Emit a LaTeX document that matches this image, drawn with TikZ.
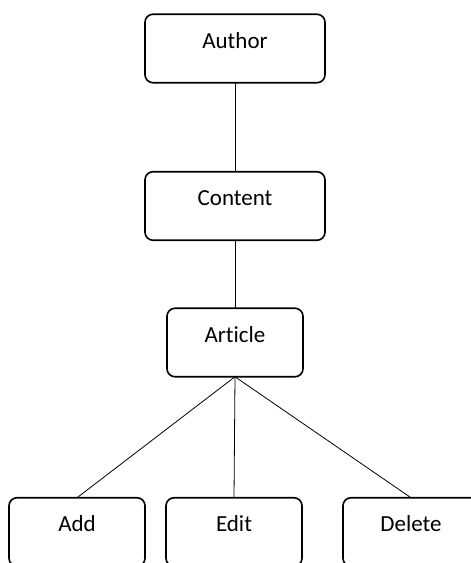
\documentclass[tikz,border=0pt]{standalone}
\usepackage{fontspec}
\setmainfont[Ligatures=NoCommon]{Carlito}
\usetikzlibrary{positioning}

\begin{document}
\begin{tikzpicture}[x=1pt,y=-1pt,line width=0.8pt,
      box/.style={draw,line width=1.6pt,rounded corners=8pt,outer sep=0pt,
        minimum width=180pt,inner xsep=0pt,inner ysep=0pt,
        text height=34pt,text depth=34.5pt,
        font=\fontsize{23}{27}\selectfont},
      small/.style={box,minimum width=136pt}]
    \useasboundingbox (0,0) rectangle (471,563);
    \clip (0,0) rectangle (471,563);
    \node[box] (author) at (235,48.5) {Author};
    \node[box] (content) [below=89pt of author] {Content};
    \node[small] (article) [below=68pt of content] {Article};
    \node[small] (edit) [below=121pt of article, xshift=-1pt] {Edit};
    \node[small] (add) [left=21pt of edit] {Add};
    \node[small] (delete) [right=41pt of edit] {Delete};
    \path (author) edge (content)
    (content) edge (article)
    (article.south)
    edge (add.north)
    edge (edit.north)
    edge (delete.north);
  \end{tikzpicture}
\end{document}
